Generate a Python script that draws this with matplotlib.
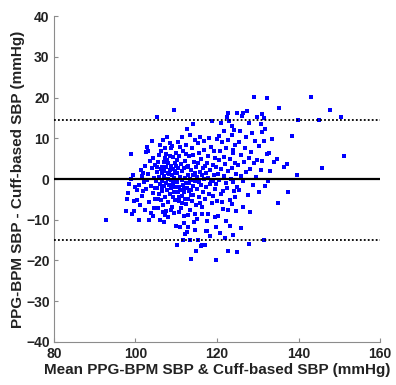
import matplotlib
matplotlib.use("Agg")
import matplotlib.pyplot as plt

# ---- data ----
mean_sbp = [
    # x 92-100
    92.9, 97.6, 98.2, 98.9, 98.9, 99.1, 99.7, 99.9, 98.5, 99.4, 97.9, 99.6,
    # x 100-105
    100.5, 101.1, 100.9, 101.5, 101.9, 102.6, 102.9, 103.1, 103.3, 105.3, 100.8, 101.3,
    101.7, 102.1, 102.4, 102.7, 103.0, 103.4, 103.6, 103.8, 104.0, 104.2, 104.4, 104.5,
    104.6, 104.8, 104.9, 102.3, 103.7, 101.8, 104.1, 104.7, 102.9, 100.3, 104.3,
    # x 105-110
    105.6, 105.2, 106.0, 106.4, 106.4, 106.8, 107.2, 107.2, 107.7, 108.1, 108.5, 108.6,
    108.5, 109.3, 109.7, 106.0, 107.0, 105.6, 107.2, 107.5, 109.9, 110.1, 105.1, 105.4,
    105.7, 105.9, 106.1, 106.2, 106.3, 106.5, 106.6, 106.7, 106.9, 107.0, 107.1, 107.3,
    107.4, 107.6, 107.7, 107.8, 107.9, 108.0, 108.2, 108.3, 108.4, 108.6, 108.7, 108.8,
    108.9, 109.0, 109.1, 109.2, 109.3, 109.4, 109.5, 109.6, 109.7, 109.8, 109.9, 105.8,
    106.2, 106.8, 107.5, 108.1, 108.9, 109.4, 105.3, 106.5, 107.9, 108.4, 109.1, 105.5,
    106.9, 108.7, 109.6,
    # x 110-115
    110.1, 109.5, 110.9, 111.6, 112.1, 112.7, 113.4, 113.6, 114.8, 112.7, 114.2, 110.2,
    110.3, 110.4, 110.5, 110.6, 110.7, 110.8, 110.9, 111.0, 111.1, 111.2, 111.3, 111.4,
    111.5, 111.6, 111.7, 111.8, 111.9, 112.0, 112.1, 112.2, 112.3, 112.4, 112.5, 112.6,
    112.8, 112.9, 113.0, 113.1, 113.2, 113.3, 113.5, 113.6, 113.7, 113.8, 113.9, 114.0,
    114.1, 114.2, 114.3, 114.4, 114.5, 114.6, 114.7, 114.8, 114.9, 110.4, 111.0, 111.5,
    112.0, 112.3, 113.0, 113.4, 114.0, 114.5, 110.6, 111.3, 112.8, 113.6, 110.0, 111.9,
    112.7, 113.9, 114.6, 110.8, 112.2, 113.2, 114.3,
    # x 115-120
    115.8, 118.0, 119.9, 118.8, 115.4, 116.0, 117.1, 116.2, 117.3, 117.5, 119.8, 119.8,
    115.1, 115.2, 115.3, 115.5, 115.6, 115.7, 115.9, 116.0, 116.1, 116.3, 116.4, 116.5,
    116.6, 116.8, 116.9, 117.0, 117.2, 117.4, 117.5, 117.7, 117.8, 117.9, 118.1, 118.2,
    118.4, 118.5, 118.7, 118.9, 119.0, 119.1, 119.3, 119.4, 119.5, 119.6, 119.7, 115.4,
    116.7, 117.6, 118.3, 119.2, 115.0, 116.2, 118.6, 117.1, 119.8, 115.8,
    # x 120-125
    122.8, 124.8, 122.4, 121.1, 123.0, 123.6, 123.6, 121.2, 122.8, 125.0, 123.9, 122.1,
    124.7, 122.8, 121.5, 123.6, 123.2, 120.9, 121.4, 122.2, 124.0, 120.2, 120.4, 120.6,
    120.8, 121.0, 121.3, 121.6, 121.8, 122.0, 122.3, 122.5, 122.7, 123.1, 123.4, 123.7,
    123.9, 124.1, 124.3, 124.5, 124.6, 124.9, 120.3, 120.7, 121.9, 123.3, 124.4, 120.5,
    121.7, 122.6, 123.8, 120.1, 124.2,
    # x 125-130
    129.0, 126.3, 127.4, 126.1, 129.7, 127.9, 128.5, 125.4, 129.3, 125.9, 127.9, 126.3,
    125.2, 125.5, 125.8, 126.0, 126.6, 126.9, 127.2, 127.5, 127.8, 128.1, 128.4, 128.8,
    129.1, 129.5, 129.8, 126.4, 128.2, 125.6, 127.0,
    # x 130-136
    131.0, 131.4, 131.0, 131.8, 131.4, 132.2, 132.8, 131.0, 134.0, 134.6, 132.2, 135.3,
    131.8, 131.5, 134.9, 130.4, 130.7, 133.1, 130.3, 133.6, 130.8, 132.5,
    # x 136-152
    137.1, 136.5, 137.5, 139.6, 139.8, 143.0, 144.9, 145.7, 147.6, 150.4, 151.2, 138.3,
]

diff_sbp = [
    # x 92-100
    -10.0, -7.9, -3.5, 6.1, -0.1, -8.6, -7.8, -2.0, -1.2, 1.0, -4.8, -5.5,
    # x 100-105
    -5.1, -6.3, -10.0, 0.7, -3.0, 6.7, 7.8, 6.9, -10.1, 15.3, -1.5, 2.2,
    -4.2, -0.8, 3.1, -2.4, 1.2, -5.6, 4.4, -1.6, 2.7, -3.4, 5.1, -7.1,
    0.3, 3.4, -2.2, -7.5, -8.3, 1.4, 9.4, -4.8, -0.3, -2.6, -9.2,
    # x 105-110
    4.2, 1.8, 8.3, 3.0, 1.4, 9.6, 7.5, 5.1, 10.4, 3.9, 8.8, 7.5,
    2.2, 5.5, 1.4, -10.0, -10.6, -7.1, -8.9, -7.8, -11.6, -16.1, -0.6, -2.3,
    -3.8, 0.4, -1.2, -5.2, 2.5, -0.4, -3.0, -6.3, 1.9, -1.8, 0.7, -4.4,
    2.9, -0.9, -2.7, 4.6, -5.6, 0.1, -1.5, 1.2, -3.6, -0.3, 3.3, -2.2,
    -6.8, 0.9, -4.5, 2.4, -1.1, -3.1, 0.3, 4.0, -2.0, -5.1, 6.3, 5.9,
    6.8, -8.0, 6.2, -9.4, 8.0, -8.3, 3.0, -2.1, 1.6, 5.7, -0.6, -5.0,
    4.2, -7.6, 2.0,
    # x 110-115
    4.7, 16.9, -11.9, -14.9, -13.5, -13.0, -14.9, -19.6, -17.8, 12.2, 13.5, -0.8,
    1.5, -3.2, 2.8, -1.9, 5.6, -5.3, 0.6, -2.6, 3.6, -7.2, -0.2, 1.9,
    -4.1, 6.9, -1.4, -9.0, 2.7, -3.3, 0.2, 4.4, -6.1, -0.9, 8.3, -2.1,
    1.1, -4.8, 3.3, -1.0, 5.6, -7.7, 0.0, -2.8, 2.2, -5.5, 7.6, -1.6,
    0.9, -3.9, 4.3, -10.6, 1.6, -0.5, 9.6, -6.5, 3.0, 9.1, 7.8, 10.2,
    -10.8, 6.1, -8.9, 10.8, 6.0, -12.6, -8.2, -6.0, -11.8, -4.0, 3.2, -2.2,
    2.9, -0.2, -8.6, -4.4, -5.0, -3.0, 1.0,
    # x 115-120
    10.4, 10.0, 9.8, 14.2, -14.9, -16.5, -16.3, -16.2, -12.7, -12.8, -11.9, -19.8,
    0.4, -2.4, 3.9, -0.8, 6.4, -4.3, 1.7, -1.5, 4.9, -6.8, 0.9, -3.1,
    2.7, -0.1, 7.1, -5.0, 1.4, -2.0, 4.0, -8.6, 0.3, 5.6, -3.6, 2.1,
    -1.1, 7.9, -6.0, 3.5, -0.6, -4.2, 1.0, 5.2, -2.5, -9.4, 2.9, 8.9,
    9.4, -10.3, -14.0, 6.8, -9.8, -8.5, -0.2, 3.1, -1.3, -5.8,
    # x 120-125
    16.1, 16.1, 15.3, 13.7, 14.2, 13.0, 10.8, 9.0, -17.6, -17.9, -13.8, -10.2,
    -7.8, -7.7, -7.3, -6.1, -5.1, -3.7, -2.9, -1.0, -0.7, 1.3, 4.6, -0.3,
    7.0, 2.4, -5.6, 5.3, 0.8, 3.6, 7.6, -2.3, 1.9, 4.8, -0.1, 2.6,
    6.3, -3.0, 4.0, 8.4, 1.2, -1.9, -9.0, -13.2, -14.5, -11.5, -4.4, 10.6,
    11.8, 9.6, 7.2, -5.5, 12.0,
    # x 125-130
    20.2, 16.3, 16.8, 15.5, 15.3, 13.8, 11.4, 9.2, 9.4, -12.1, -16.0, -0.6,
    3.4, -2.8, 5.9, 0.8, 4.3, 7.5, 1.8, -4.0, 5.2, 2.5, 6.6, -1.5,
    3.9, 0.4, 4.6, -6.8, -8.2, 11.8, 10.3,
    # x 130-136
    16.0, 15.1, 11.6, 12.4, 9.3, 6.1, 6.5, 4.5, 4.1, 4.8, 19.8, 17.5,
    -1.6, -14.9, -5.8, 8.0, 2.3, 2.0, -3.3, 9.8, 13.4, -0.5,
    # x 136-152
    3.7, 2.9, -3.1, 1.0, 14.6, 20.2, 14.6, 2.8, 16.9, 15.3, 5.7, 10.6,
]

bias = -0.1
upper_loa = 14.6
lower_loa = -15.0

x_ticks = [80, 100, 120, 140, 160]
y_ticks = [-40, -30, -20, -10, 0, 10, 20, 30, 40]
x_label = "Mean PPG-BPM SBP & Cuff-based SBP (mmHg)"
y_label = "PPG-BPM SBP - Cuff-based SBP (mmHg)"

# ---- plot ----
plt.rcParams['font.family'] = ['Liberation Sans', 'DejaVu Sans']
fig = plt.figure(figsize=(3.96, 3.85), dpi=100)
ax = fig.add_axes([0.136, 0.112, 0.824, 0.846])

ax.plot(mean_sbp, diff_sbp, linestyle='none', marker='s', markersize=2.9,
        color='#0000ff', markeredgewidth=0)

ax.axhline(bias, color='black', lw=1.6, zorder=3)
ax.axhline(upper_loa, color='black', lw=1.3, linestyle=(0, (1, 1.2)), zorder=3)
ax.axhline(lower_loa, color='black', lw=1.3, linestyle=(0, (1, 1.2)), zorder=3)

ax.set_xlim(80, 160)
ax.set_ylim(-40, 40)
ax.set_xticks(x_ticks)
ax.set_yticks(y_ticks)

for s in ['top', 'right']:
    ax.spines[s].set_visible(False)
for s in ['left', 'bottom']:
    ax.spines[s].set_color('#8c8c8c')
    ax.spines[s].set_linewidth(0.8)

ax.tick_params(direction='in', length=3, width=0.8, color='#8c8c8c',
               labelsize=10)
ax.tick_params(axis='x', pad=4)
ax.tick_params(axis='y', pad=3)
for lab in ax.get_xticklabels() + ax.get_yticklabels():
    lab.set_fontweight('bold')
    lab.set_color('#222222')

ax.set_xlabel(x_label, fontsize=11, fontweight='bold', color='#222222', labelpad=1)
ax.set_ylabel(y_label, fontsize=11, fontweight='bold', color='#222222', labelpad=1)

fig.savefig('out.png', dpi=100)
